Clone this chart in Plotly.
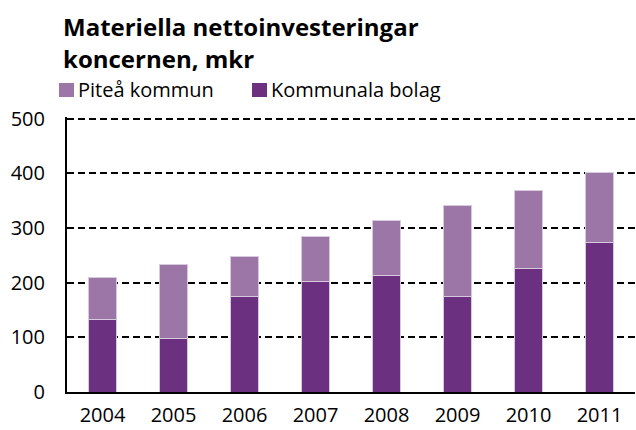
import plotly.graph_objects as go

years = ["2004", "2005", "2006", "2007", "2008", "2009", "2010", "2011"]
kommunala_bolag = [133, 97, 174, 203, 214, 174, 225, 273]
pitea_kommun = [77, 136, 73, 81, 99, 168, 143, 128]
y_ticks = [0, 100, 200, 300, 400, 500]
title_lines = ["Materiella nettoinvesteringar", "koncernen, mkr"]
legend_names = ["Piteå kommun", "Kommunala bolag"]

DARK = "#6B3180"
LIGHT = "#9D76A8"
EDGE = "#D8CADD"
FONT = "Open Sans"

W, H = 636, 430
L, R, T, B = 67, 1, 117, 38
PW, PH = W - L - R, H - T - B

def px_x(x):
    return (x - L) / PW

def px_y(y):
    return (H - B - y) / PH

fig = go.Figure()
fig.add_trace(go.Bar(
    x=years, y=kommunala_bolag, name=legend_names[1],
    marker=dict(color=DARK, line=dict(color=EDGE, width=1)),
    showlegend=False,
))
fig.add_trace(go.Bar(
    x=years, y=pitea_kommun, name=legend_names[0],
    marker=dict(color=LIGHT, line=dict(color=EDGE, width=1)),
    showlegend=False,
))

# title
for line, yc in zip(title_lines, [26, 59]):
    fig.add_annotation(
        text=f"<b>{line}</b>", xref="paper", yref="paper",
        x=px_x(61), y=px_y(yc), xanchor="left", yanchor="middle",
        showarrow=False, font=dict(family=FONT, size=24, color="black"),
    )

# legend (custom, to match placement)
for name, color, x0 in zip(legend_names, [LIGHT, DARK], [59, 252]):
    fig.add_shape(
        type="rect", xref="paper", yref="paper",
        x0=px_x(x0), x1=px_x(x0 + 15), y0=px_y(97), y1=px_y(83),
        fillcolor=color, line=dict(width=0),
    )
    fig.add_annotation(
        text=name, xref="paper", yref="paper",
        x=px_x(x0 + 17), y=px_y(89), xanchor="left", yanchor="middle",
        showarrow=False, font=dict(family=FONT, size=20, color="black"),
    )

fig.update_layout(
    width=W, height=H,
    barmode="stack", bargap=0.6,
    paper_bgcolor="white", plot_bgcolor="white",
    margin=dict(l=L, r=R, t=T, b=B, autoexpand=False),
    font=dict(family=FONT, color="black", size=20),
    showlegend=False,
)
fig.update_xaxes(
    showline=True, linecolor="black", linewidth=2,
    showgrid=False, ticks="", ticklabelstandoff=4,
    tickfont=dict(family=FONT, size=20),
)
fig.update_yaxes(
    range=[0, 503], tickvals=y_ticks, showline=True, linecolor="black", linewidth=2,
    showgrid=True, gridcolor="black", gridwidth=2, griddash="7px,4px",
    zeroline=False, ticks="", ticklabelstandoff=16,
    tickfont=dict(family=FONT, size=20),
)

fig.write_html(
    "out.html",
    config={"displayModeBar": False},
    post_script="document.body.style.margin='0';",
)
